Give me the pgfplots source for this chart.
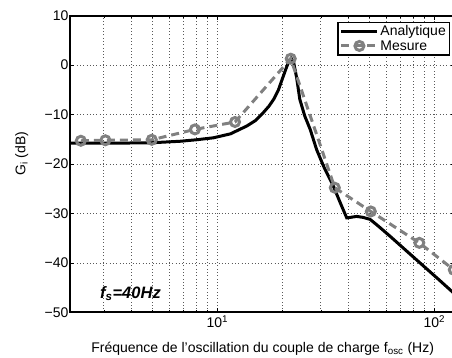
\documentclass[border=0pt]{standalone}
\usepackage{fontspec}
\setmainfont{Liberation Sans}
\usepackage{pgfplots}
\pgfplotsset{compat=1.18}
\begin{document}
\begin{tikzpicture}
\useasboundingbox (-70pt,-45.7pt) rectangle (382pt,312.3pt);
\clip (-70pt,-45.7pt) rectangle (382pt,312.3pt);
\begin{axis}[
  xmode=log, scale only axis, width=385.3pt, height=296.6pt,
  xmin=2.095, xmax=125, ymin=-50, ymax=10,
  xtick={10,100}, xticklabels={10\textsuperscript{1},10\textsuperscript{2}},
  minor xtick={2,3,4,5,6,7,8,9,20,30,40,50,60,70,80,90},
  ytick={-50,-40,-30,-20,-10,0,10},
  yticklabels={−50,−40,−30,−20,−10,0,10},
  xmajorgrids, xminorgrids, ymajorgrids,
  grid style={black!65, line width=0.7pt, dash pattern=on 0.7pt off 2.6pt},
  minor grid style={black!65, line width=0.7pt, dash pattern=on 0.7pt off 2.6pt},
  axis line style={line width=1.8pt},
  tick align=inside, major tick length=4pt, minor tick length=2pt,
  tick style={black, line width=0.5pt},
  ticklabel style={font=\fontsize{14}{16}\selectfont},
  yticklabel style={xshift=2pt},
  label style={font=\fontsize{14}{16}\selectfont},
  xlabel={Fréquence de l'oscillation du couple de charge f\textsubscript{osc} (Hz)},
  ylabel={G\textsubscript{i} (dB)},
  xlabel style={at={(axis description cs:0.5,-0.124)}, anchor=center},
  ylabel style={at={(axis description cs:-0.125,0.535)}, anchor=center},
  legend image code/.code={\draw[mark repeat=2,mark phase=2,#1] plot coordinates {(0pt,0pt) (18pt,0pt) (36pt,0pt)};},
  legend style={at={(rel axis cs:0.986,0.98)}, anchor=north east, draw=black, line width=1.2pt,
    font=\fontsize{14}{16}\selectfont, inner xsep=2pt, inner ysep=2pt, row sep=0pt,
    nodes={inner sep=1.5pt}, cells={anchor=west}},
]
\addplot[black, line width=3pt] coordinates {
(2.09,-15.8) (3,-15.8) (4,-15.75) (5,-15.7) (6.74,-15.4) (8,-15.1) (9.6,-14.7)
(11.5,-13.9) (13.7,-12.3) (15,-11.2) (16.3,-9.6) (17.3,-8.3) (18.2,-6.9) (19.1,-5.1)
(19.9,-2.9) (20.7,-0.8) (21.4,0.9) (21.9,1.4) (22.5,0.5) (23.2,-2.5) (24.0,-6.9)
(25.3,-10.3) (26.8,-13.0) (28.7,-17.1) (31,-20.6) (34.3,-24.5) (37,-28) (39.5,-30.9)
(41,-30.8) (43.9,-30.6) (47,-30.8) (50.6,-31.2) (55,-32.5) (62.5,-34.6) (75,-37.7)
(89,-40.6) (105,-43.4) (125,-46.4)
};
\addlegendentry{Analytique}
\addplot[gray, line width=3pt, dash pattern=on 8pt off 5pt, mark=o, mark size=4.5pt,
  mark options={solid, line width=3pt, fill=none}] coordinates {
(2.35,-15.3) (3.05,-15.2) (4.99,-15.1) (7.89,-13.0) (12.07,-11.5) (21.8,1.3)
(34.8,-24.8) (51.0,-29.6) (85.3,-35.95) (123,-41.4)
};
\addlegendentry{Mesure}
\node[anchor=west, font=\bfseries\itshape\fontsize{16.5}{18}\selectfont] at (axis cs:2.78,-46.2) {f\textsubscript{s}=40Hz};
\end{axis}
\end{tikzpicture}
\end{document}
